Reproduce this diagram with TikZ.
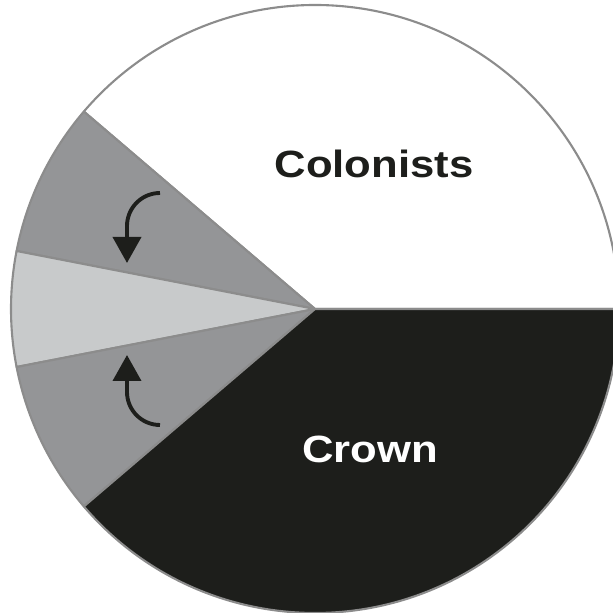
\documentclass[tikz,border=0pt]{standalone}
\usepackage{fontspec}
\newfontfamily\slicefont[FakeStretch=1.15]{Liberation Sans Bold}
\usepackage{tikz}
\usetikzlibrary{arrows.meta, positioning}

\definecolor{rim}{HTML}{8C8C8C}
\definecolor{share}{HTML}{949597}
\definecolor{pale}{HTML}{C8CACB}
\definecolor{ink}{HTML}{1D1E1B}

\begin{document}
\begin{tikzpicture}[
  >={Triangle[width=2.8mm,length=2.6mm]},
  wedge/.style     = {draw=rim, line width=0.6pt, line join=round},
  turn/.style      = {->, line width=1.1pt, draw=ink},
  slicetext/.style = {font=\slicefont\fontsize{10.8}{13}\selectfont, anchor=base},
]
  \def\R{3.04}
  \useasboundingbox (-3.15,-3.04) rectangle (2.98,3.09);

  \coordinate (hub) at (0,0);

  % the five slices
  \draw[wedge, fill=white] (hub) -- (0:\R)     arc[start angle=0,     end angle=139.5, radius=\R] -- cycle;
  \draw[wedge, fill=share] (hub) -- (139.5:\R) arc[start angle=139.5, end angle=169,   radius=\R] -- cycle;
  \draw[wedge, fill=pale]  (hub) -- (169:\R)   arc[start angle=169,   end angle=191,   radius=\R] -- cycle;
  \draw[wedge, fill=share] (hub) -- (191:\R)   arc[start angle=191,   end angle=220.5, radius=\R] -- cycle;
  \draw[wedge, fill=ink]   (hub) -- (220.5:\R) arc[start angle=220.5, end angle=360,   radius=\R] -- cycle;

  \node[slicetext, text=ink]   (colonists) at (0.59,1.31)  {Colonists};
  \node[slicetext, text=white] (crown)     at (0.55,-1.54) {Crown};

  % arrows into the middle slice
  \coordinate (upstart) at (-1.55,1.16);
  \coordinate (lostart) at (-1.55,-1.16);
  \draw[turn] (upstart) arc[start angle=90,  end angle=180,  radius=0.33] -- ++(0,-0.37);
  \draw[turn] (lostart) arc[start angle=-90, end angle=-180, radius=0.33] -- ++(0,0.37);
\end{tikzpicture}
\end{document}
